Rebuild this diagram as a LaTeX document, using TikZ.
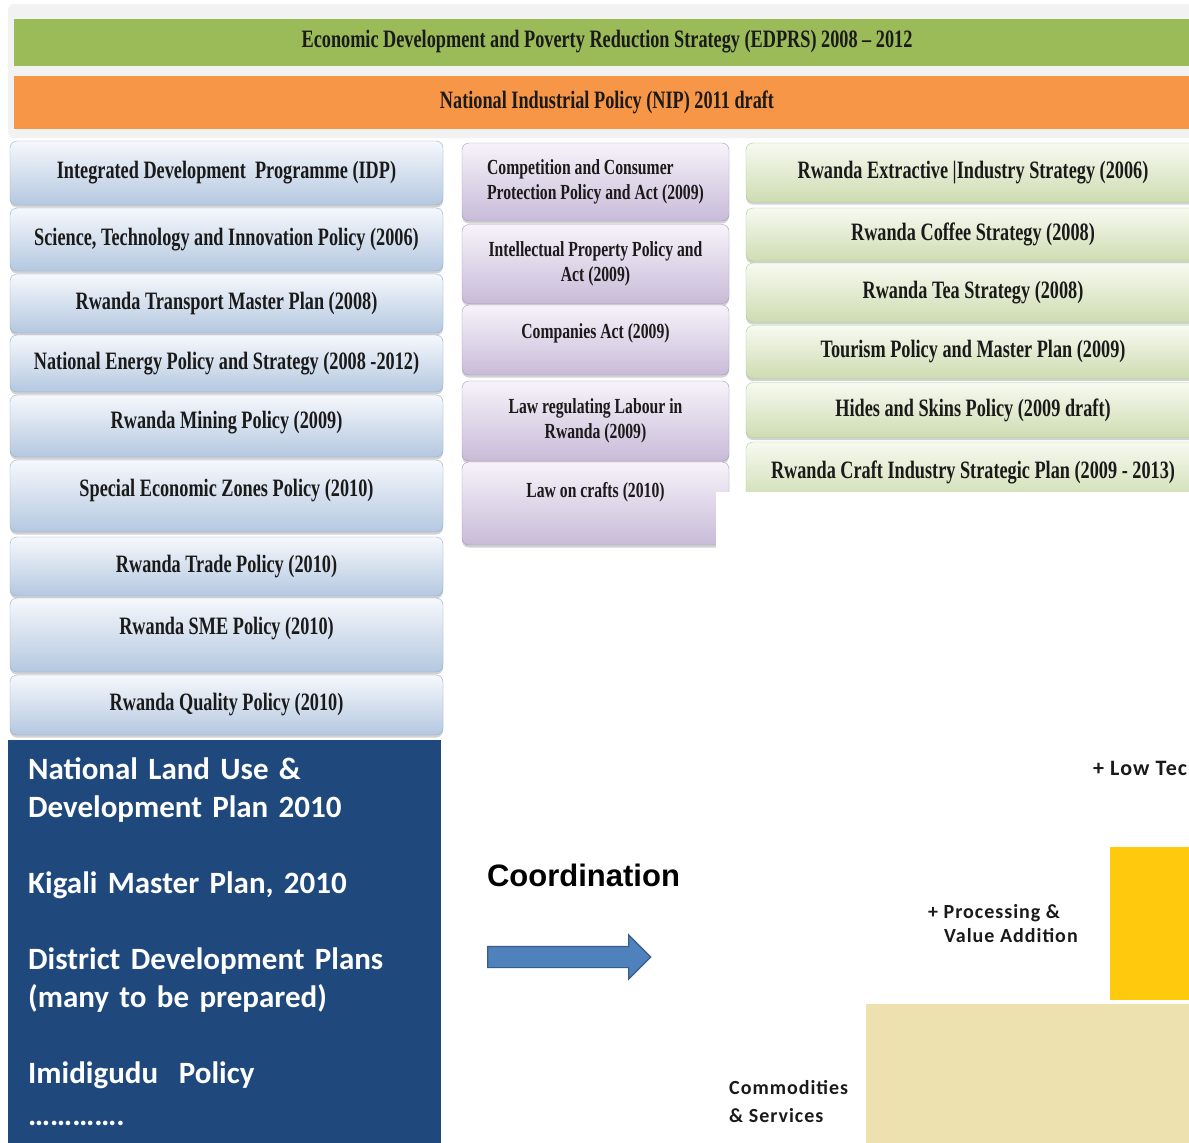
\documentclass[tikz,border=0pt]{standalone}
\usepackage{fontspec}
\setsansfont{Liberation Sans}
\newfontfamily\polfont[FakeStretch=0.73]{Liberation Serif}
\newfontfamily\calfont{Carlito}
\newfontfamily\lowfont[LetterSpace=5]{Carlito}
\usetikzlibrary{shapes.arrows,shadows}
\definecolor{barGreen}{HTML}{9BBB59}
\definecolor{barOrange}{HTML}{F79646}
\definecolor{panelGray}{HTML}{F2F2F2}
\definecolor{textDark}{HTML}{1A1A1A}
\definecolor{blueTop}{HTML}{F6F8FC}
\definecolor{blueBot}{HTML}{B4C8E0}
\definecolor{blueLine}{HTML}{95AFCF}
\definecolor{purpTop}{HTML}{F7F3FA}
\definecolor{purpBot}{HTML}{C8BBD8}
\definecolor{purpLine}{HTML}{A898BC}
\definecolor{grnTop}{HTML}{F7FAF1}
\definecolor{grnBot}{HTML}{CEDCB1}
\definecolor{grnLine}{HTML}{B5C98E}
\definecolor{landBlue}{HTML}{1F497D}
\definecolor{arrowBlue}{HTML}{4F81BD}
\definecolor{arrowLine}{HTML}{385D8A}
\definecolor{stepYellow}{HTML}{FFC90E}
\definecolor{stepBeige}{HTML}{EEE1B0}
\tikzset{
	barbox/.style 2 args={fill=#1,minimum width=1186pt,minimum height=#2,inner sep=0pt,text=textDark,font=\polfont\bfseries\fontsize{25}{27}\selectfont},
	bbox/.style 2 args={rounded corners=7pt,draw=blueLine,top color=blueTop,bottom color=blueBot,minimum width=433pt,minimum height=#1,name=#2,inner sep=0pt,text=textDark,font=\polfont\bfseries\fontsize{25}{27}\selectfont,drop shadow={opacity=.35,shadow xshift=0pt,shadow yshift=-2.5pt}},
	pbox/.style 2 args={rounded corners=7pt,draw=purpLine,top color=purpTop,bottom color=purpBot,minimum width=267pt,minimum height=#1,name=#2,inner sep=0pt,align=left,text=textDark,font=\polfont\bfseries\fontsize{21.5}{25}\selectfont,drop shadow={opacity=.35,shadow xshift=0pt,shadow yshift=-2.5pt}},
	gbox/.style 2 args={rounded corners=7pt,draw=grnLine,top color=grnTop,bottom color=grnBot,minimum width=454pt,minimum height=#1,name=#2,inner sep=0pt,text=textDark,font=\polfont\bfseries\fontsize{25}{27}\selectfont,drop shadow={opacity=.35,shadow xshift=0pt,shadow yshift=-2.5pt}},
	steplabel/.style={anchor=west,inner sep=0pt,align=left,text=textDark,font=\lowfont\bfseries\fontsize{20}{24}\selectfont}
}
\begin{document}
\begin{tikzpicture}[x=1pt,y=-1pt]
	\useasboundingbox (0,0) rectangle (1189,1143);
	\clip (0,0) rectangle (1189,1143);
	\fill[white] (0,0) rectangle (1189,1143);
	\fill[panelGray,rounded corners=6pt] (8,4) rectangle (1200,138);

	\node [barbox={barGreen}{47}] (edprs) at (607,42) {Economic Development and Poverty Reduction Strategy (EDPRS) 2008 – 2012};
	\node [barbox={barOrange}{53}] (nip) at (607,102) {National Industrial Policy (NIP) 2011 draft};

	\node [bbox={64}{idp}] at (226.5,173) {Integrated Development\ \ Programme (IDP)};
	\node [bbox={63}{sti}] at (226.5,239.5) {Science, Technology and Innovation Policy (2006)};
	\node [bbox={59}{transport}] at (226.5,303.5) {Rwanda Transport Master Plan (2008)};
	\node [bbox={57}{energy}] at (226.5,363.5) {National Energy Policy and Strategy (2008 -2012)};
	\node [bbox={62}{mining},text depth=13pt] at (226.5,426) {Rwanda Mining Policy (2009)};
	\node [bbox={72}{sez},text depth=17pt] at (226.5,496) {Special Economic Zones Policy (2010)};
	\node [bbox={59}{trade}] at (226.5,566.5) {Rwanda Trade Policy (2010)};
	\node [bbox={74}{sme},text depth=19pt] at (226.5,635) {Rwanda SME Policy (2010)};
	\node [bbox={60}{quality}] at (226.5,705) {Rwanda Quality Policy (2010)};

	\node [pbox={78}{competition}] at (595.5,182) {Competition and Consumer\\Protection Policy and Act (2009)};
	\node [pbox={79}{ipact},align=center] at (595.5,264) {Intellectual Property Policy and\\Act (2009)};
	\node [pbox={70}{companies},text depth=17pt] at (595.5,340) {Companies Act (2009)};
	\node [pbox={80}{labour},align=center] at (595.5,421) {Law regulating Labour in\\Rwanda (2009)};
	\node [pbox={83}{crafts},text depth=28pt] at (595.5,503.5) {Law on crafts (2010)};

	\node [gbox={59}{extractive}] at (973,172.5) {Rwanda Extractive |Industry Strategy (2006)};
	\node [gbox={53}{coffee}] at (973,234.5) {Rwanda Coffee Strategy (2008)};
	\node [gbox={59}{tea}] at (973,292.5) {Rwanda Tea Strategy (2008)};
	\node [gbox={53}{tourism}] at (973,352) {Tourism Policy and Master Plan (2009)};
	\node [gbox={55}{hides}] at (973,410) {Hides and Skins Policy (2009 draft)};
	\node [gbox={60}{craftplan}] at (973,472) {Rwanda Craft Industry Strategic Plan (2009 - 2013)};
	\fill[white] (716,492) rectangle (1200,560);

	\node [anchor=north west,fill=landBlue,minimum width=433pt,minimum height=403pt,inner xsep=20pt,inner ysep=0pt,text width=393pt,align=left,text=white,font=\calfont\bfseries\fontsize{31}{38}\selectfont] (landuse) at (8,740) {National Land Use \&\\Development Plan 2010\\[38pt]Kigali Master Plan, 2010\\[38pt]District Development Plans\\(many to be prepared)\\[38pt]Imidigudu~~Policy\\[4pt]…………. };

	\node [font=\sffamily\bfseries\fontsize{31}{36}\selectfont,inner sep=0pt] (coord) at (583.5,875) {Coordination};
	\node [single arrow,draw=arrowLine,line width=1.2pt,fill=arrowBlue,minimum height=163pt,text height=10pt,text depth=10pt,inner sep=0pt,single arrow head extend=11.5pt,single arrow head indent=0pt] (coordarrow) at (564,957) {};

	\fill[stepYellow] (1110,847) rectangle (1200,1000);
	\fill[stepBeige] (866,1004) rectangle (1200,1150);
	\node [steplabel,font=\lowfont\bfseries\fontsize{22}{24}\selectfont] (lowtech) at (1093,768) {+ Low Tech};
	\node [steplabel] (processing) at (928,924) {+ Processing \&\\\hspace*{16pt}Value Addition};
	\node [steplabel,text depth=0pt] (commodities) at (729,1101) {Commodities\\[4pt]\& Services};
\end{tikzpicture}
\end{document}
